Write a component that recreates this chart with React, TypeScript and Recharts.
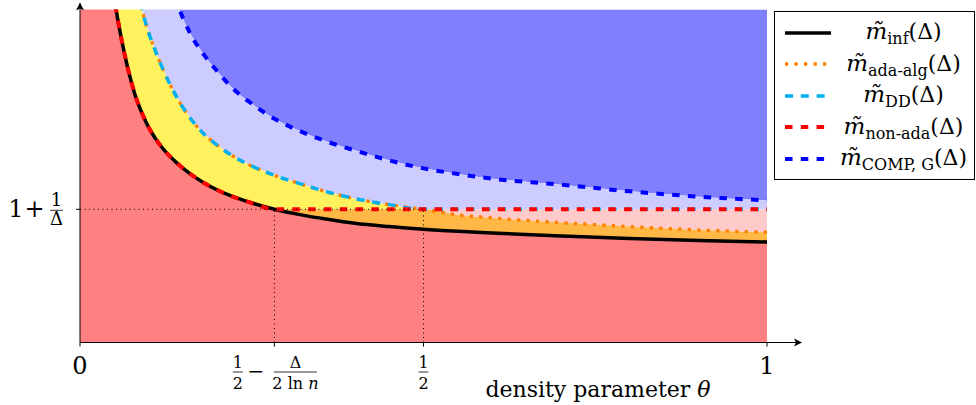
import { ComposedChart, Area, Line, XAxis, YAxis, ReferenceLine, Legend, Label } from "recharts";

// density parameter theta (x) and the five thresholds
const theta = [0, 0.03, 0.04, 0.05, 0.06, 0.07, 0.08, 0.09, 0.1, 0.11, 0.12, 0.14, 0.16, 0.18, 0.2, 0.22, 0.25, 0.283, 0.32, 0.36, 0.4, 0.45, 0.5, 0.55, 0.6, 0.7, 0.8, 0.9, 1];
const mInf = [40, 15.5, 12.2, 10.35, 9.15, 8.2, 7.45, 6.9, 6.46, 6.12, 5.84, 5.41, 5.07, 4.8, 4.58, 4.4, 4.19, 4.0, 3.84, 3.7, 3.58, 3.48, 3.4, 3.34, 3.29, 3.2, 3.12, 3.06, 3.02];
const mAdaAlg = [50, 25, 19.5, 15.9, 13.6, 12.0, 10.9, 10.0, 9.3, 8.74, 8.24, 7.4, 6.75, 6.27, 5.92, 5.63, 5.3, 5.02, 4.77, 4.52, 4.32, 4.14, 4.0, 3.83, 3.74, 3.6, 3.48, 3.38, 3.31];
const mDD = [50, 25, 19.5, 15.9, 13.6, 12.0, 10.9, 10.0, 9.3, 8.74, 8.24, 7.4, 6.75, 6.27, 5.92, 5.63, 5.3, 5.02, 4.77, 4.52, 4.32, 4.14, 4.0, 4, 4, 4, 4, 4, 4];
const mNonAda = [40, 15.5, 12.2, 10.35, 9.15, 8.2, 7.45, 6.9, 6.46, 6.12, 5.84, 5.41, 5.07, 4.8, 4.58, 4.4, 4.19, 4.0, 4, 4, 4, 4, 4, 4, 4, 4, 4, 4, 4];
const mComp = [80, 40, 33, 28, 24, 21, 18.5, 16.5, 14.8, 13.3, 12.0, 10.3, 9.3, 8.65, 8.14, 7.68, 7.17, 6.72, 6.35, 6.03, 5.77, 5.47, 5.23, 5.06, 4.92, 4.74, 4.54, 4.38, 4.27];

const threshold = 4; // 1 + 1/Delta
const yTop = 10;
const xTicks = [0, 0.283, 0.5, 1];

const FONT = "'DejaVu Serif', serif";

const data = theta.map((t, i) => {
  const inf = mInf[i];
  const ada = mAdaAlg[i];
  const dd = mDD[i];
  const non = mNonAda[i];
  const comp = mComp[i];
  return {
    theta: t,
    inf,
    ada,
    dd,
    non,
    comp,
    blueBand: [Math.min(comp, yTop), yTop],
    lavBand: [Math.max(dd, non), comp],
    yelBand: [non, Math.max(dd, non)],
    pinkBand: [Math.min(ada, non), non],
    orangeBand: [inf, Math.min(ada, non)],
    redBand: [0, inf],
  };
});

const bands = [
  { key: "blueBand", fill: "#8080ff" },
  { key: "lavBand", fill: "#ccccff" },
  { key: "yelBand", fill: "#fff25e" },
  { key: "pinkBand", fill: "#ffcaca" },
  { key: "orangeBand", fill: "#ffb845" },
  { key: "redBand", fill: "#ff8080" },
];

const series = [
  { key: "inf", sub: "inf", color: "#000000", width: 3.5, dash: undefined },
  { key: "ada", sub: "ada-alg", color: "#ff8000", width: 3.3, dash: "3.3 6.2" },
  { key: "dd", sub: "DD", color: "#00b0f0", width: 3.5, dash: "8 7.8" },
  { key: "non", sub: "non-ada", color: "#ff0000", width: 4, dash: "7.5 8.3" },
  { key: "comp", sub: "COMP, G", color: "#0000ff", width: 4, dash: "7.5 8.3" },
];

function Frac({ cx, base, num, den, size, barW }: any) {
  return (
    <g>
      <text x={cx} y={base} textAnchor="middle" fontSize={size} fontFamily={FONT}>{num}</text>
      <line x1={cx - barW / 2} x2={cx + barW / 2} y1={base + 4.5} y2={base + 4.5} stroke="#000" strokeWidth={0.8} />
      <text x={cx} y={base + 21.5} textAnchor="middle" fontSize={size} fontFamily={FONT}>{den}</text>
    </g>
  );
}

function XTick(props: any) {
  const { x, y, payload } = props;
  const axisY = y - 4;
  const v = payload.value;
  if (v === 0 || v === 1) {
    return (
      <text x={x} y={axisY + 31} textAnchor="middle" fontSize={24} fontFamily={FONT}>
        {v}
      </text>
    );
  }
  if (v === 0.5) {
    return <Frac cx={x} base={axisY + 25} num="1" den="2" size={16} barW={10} />;
  }
  return (
    <g>
      <Frac cx={x - 36.5} base={axisY + 25} num="1" den="2" size={16} barW={10} />
      <text x={x - 18.5} y={axisY + 35.5} textAnchor="middle" fontSize={20} fontFamily={FONT}>−</text>
      <Frac
        cx={x + 21}
        base={axisY + 25}
        num="Δ"
        den={<>2 ln <tspan fontStyle="italic">n</tspan></>}
        size={16}
        barW={43}
      />
    </g>
  );
}

function YTick(props: any) {
  const { x, y } = props;
  const axisX = x + 4;
  return (
    <g>
      <text x={axisX - 64} y={y + 8} textAnchor="middle" fontSize={24} fontFamily={FONT}>1</text>
      <text x={axisX - 45.5} y={y + 8} textAnchor="middle" fontSize={24} fontFamily={FONT}>+</text>
      <text x={axisX - 23.5} y={y - 3} textAnchor="middle" fontSize={18} fontFamily={FONT}>1</text>
      <line x1={axisX - 30} x2={axisX - 17} y1={y + 1} y2={y + 1} stroke="#000" strokeWidth={0.8} />
      <text x={axisX - 23.5} y={y + 16} textAnchor="middle" fontSize={18} fontFamily={FONT}>Δ</text>
    </g>
  );
}

function XArrow(props: any) {
  const { x1, y1, x2 } = props;
  const end = x2 + 34;
  return (
    <g>
      <line x1={x1} y1={y1} x2={end} y2={y1} stroke="#000" strokeWidth={1} />
      <path d={`M${end + 1},${y1} L${end - 7},${y1 - 4} L${end - 5},${y1} L${end - 7},${y1 + 4} Z`} fill="#000" />
    </g>
  );
}

function YArrow(props: any) {
  const { x1, y1, y2 } = props;
  const top = Math.min(y1, y2) - 6;
  const bottom = Math.max(y1, y2);
  return (
    <g>
      <line x1={x1} y1={bottom} x2={x1} y2={top} stroke="#000" strokeWidth={1} />
      <path d={`M${x1},${top - 1} L${x1 - 4},${top + 7} L${x1},${top + 5} L${x1 + 4},${top + 7} Z`} fill="#000" />
    </g>
  );
}

function LegendBox() {
  return (
    <div
      style={{
        width: 201,
        height: 169,
        boxSizing: "border-box",
        border: "1px solid #000",
        background: "#fff",
        paddingTop: 5,
      }}
    >
      {series.map((s) => (
        <div key={s.key} style={{ display: "flex", alignItems: "center", height: 31.5 }}>
          <svg width={58} height={10} style={{ flex: "none" }}>
            <line x1={10} y1={5} x2={56} y2={5} stroke={s.color} strokeWidth={s.width} strokeDasharray={s.dash} />
          </svg>
          <div style={{ flex: 1, textAlign: "center", fontFamily: FONT, fontSize: 22, lineHeight: "24px", whiteSpace: "nowrap" }}>
            <span style={{ fontStyle: "italic", fontSize: 23 }}>m&#771;</span>
            <span style={{ fontSize: 16, position: "relative", top: 5 }}>{s.sub}</span>
            <span>(Δ)</span>
          </div>
        </div>
      ))}
    </div>
  );
}

export default function App() {
  return (
    <div style={{ position: "absolute", left: 0, top: 0, width: 976, height: 405, background: "#fff" }}>
      <ComposedChart width={976} height={405} data={data} margin={{ top: 9.5, right: 209, left: 0, bottom: 22.5 }}>
        <XAxis
          dataKey="theta"
          type="number"
          domain={[0, 1]}
          ticks={xTicks}
          axisLine={false}
          tickLine={{ stroke: "#000" }}
          tickSize={4}
          tickMargin={0}
          height={40}
          tick={<XTick />}
          interval={0}
        >
          <Label
            content={(p: any) => {
              const vb = p.viewBox;
              return (
                <text x={vb.x + vb.width * 0.754} y={vb.y + 54} textAnchor="middle" fontSize={22} fontFamily={FONT}>
                  density parameter <tspan fontStyle="italic">θ</tspan>
                </text>
              );
            }}
          />
        </XAxis>
        <YAxis
          type="number"
          domain={[0, yTop]}
          allowDataOverflow
          ticks={[threshold]}
          axisLine={false}
          tickLine={{ stroke: "#000" }}
          tickSize={4}
          tickMargin={0}
          width={80}
          tick={<YTick />}
        />
        {bands.map((b) => (
          <Area
            key={b.key}
            dataKey={b.key}
            type="monotone"
            fill={b.fill}
            fillOpacity={1}
            stroke="none"
            legendType="none"
            dot={false}
            activeDot={false}
            isAnimationActive={false}
          />
        ))}
        {series.map((s) => (
          <Line
            key={s.key}
            dataKey={s.key}
            type="monotone"
            stroke={s.color}
            strokeWidth={s.width}
            strokeDasharray={s.dash}
            dot={false}
            activeDot={false}
            isAnimationActive={false}
          />
        ))}
        <ReferenceLine
          segment={[{ x: 0, y: threshold }, { x: 0.5, y: threshold }]}
          stroke="#000"
          strokeWidth={1}
          strokeDasharray="1 3.5"
        />
        <ReferenceLine
          segment={[{ x: 0.283, y: 0 }, { x: 0.283, y: threshold }]}
          stroke="#000"
          strokeWidth={1}
          strokeDasharray="1 3.5"
        />
        <ReferenceLine
          segment={[{ x: 0.5, y: 0 }, { x: 0.5, y: threshold }]}
          stroke="#000"
          strokeWidth={1}
          strokeDasharray="1 3.5"
        />
        <ReferenceLine y={0} shape={<XArrow />} />
        <ReferenceLine x={0} shape={<YArrow />} />
        <Legend
          layout="vertical"
          align="center"
          verticalAlign="middle"
          content={() => <LegendBox />}
          wrapperStyle={{ left: 774, top: 11, width: 201 }}
        />
      </ComposedChart>
    </div>
  );
}
